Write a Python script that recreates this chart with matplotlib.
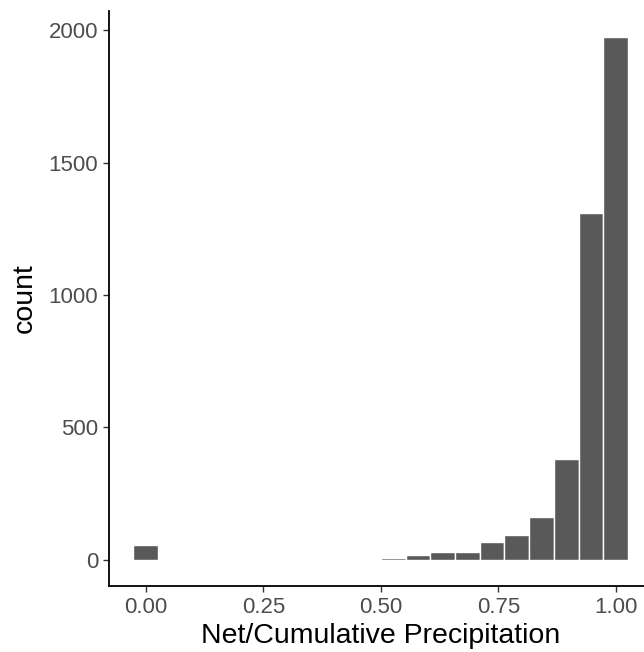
#!/usr/bin/python
# -*- coding: utf-8 -*-

import sys
import numpy as np
import matplotlib
matplotlib.use("Agg")
import matplotlib.pyplot as plt

# histogram of net / cumulative precipitation ratio, 20 bins on [0, 1]
n_bins = 20
counts = [54, 0, 0, 0, 0, 0, 0, 0, 0, 0,
          6, 19, 28, 28, 67, 94, 161, 379, 1310, 1976]
x_ticks = [0.00, 0.25, 0.50, 0.75, 1.00]
x_tick_labels = ["0.00", "0.25", "0.50", "0.75", "1.00"]
y_ticks = [0, 500, 1000, 1500, 2000]


def main():
    plt.rcParams["font.family"] = ["Liberation Sans", "DejaVu Sans"]

    binwidth = 1.0 / (n_bins - 1)
    centers = np.arange(n_bins) * binwidth

    fig = plt.figure(figsize=(6.44, 6.52), dpi=100)
    ax = fig.add_axes([0.1688, 0.1017, 0.845, 0.8819])

    ax.bar(centers, counts, width=binwidth, color="#595959",
           edgecolor="white", linewidth=1.0, align="center")

    # ggplot-style 5% expansion
    lo = centers[0] - binwidth / 2
    hi = centers[-1] + binwidth / 2
    pad = (hi - lo) * 0.05
    ax.set_xlim(lo - pad, hi + pad)
    ymax = max(counts)
    ax.set_ylim(-ymax * 0.05, ymax * 1.05)

    ax.set_xticks(x_ticks)
    ax.set_xticklabels(x_tick_labels)
    ax.set_yticks(y_ticks)
    ax.set_yticklabels([str(v) for v in y_ticks])

    ax.tick_params(axis="both", direction="out", length=4.5, width=1.0,
                   color="#333333", labelcolor="#4D4D4D", labelsize=16,
                   pad=3)
    ax.tick_params(axis="x", pad=4)

    for side in ["top", "right"]:
        ax.spines[side].set_visible(False)
    for side in ["left", "bottom"]:
        ax.spines[side].set_linewidth(1.3)
        ax.spines[side].set_color("black")

    ax.set_xlabel("Net/Cumulative Precipitation", fontsize=20.5,
                  color="black", labelpad=3)
    ax.set_ylabel("count", fontsize=20.5, color="black", labelpad=8)

    fig.savefig("out.png", dpi=100)
    plt.close("all")
    return 0


if __name__ == '__main__':
    sys.exit(main())
